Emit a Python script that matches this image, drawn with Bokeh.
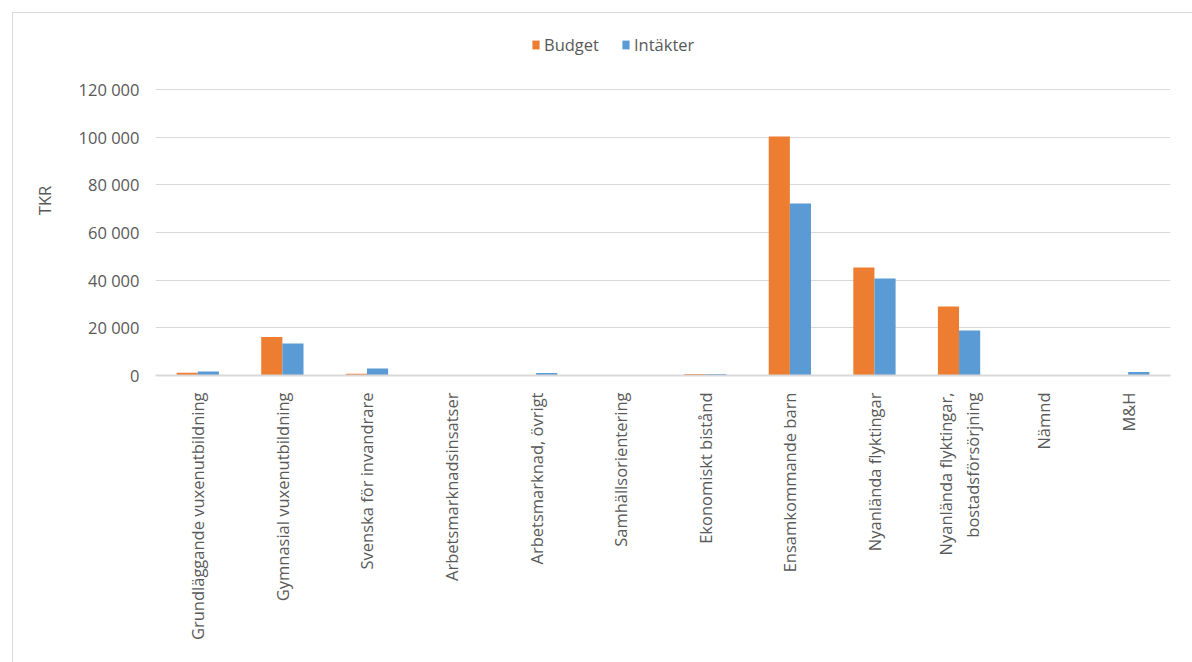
from bokeh.plotting import figure
from bokeh.models import FactorRange, Legend, LegendItem, CustomJSTickFormatter, ColumnDataSource, FixedTicker, Range1d
from bokeh.transform import dodge
from bokeh.embed import file_html
from bokeh.resources import INLINE

categories = [
    "Grundläggande vuxenutbildning",
    "Gymnasial vuxenutbildning",
    "Svenska för invandrare",
    "Arbetsmarknadsinsatser",
    "Arbetsmarknad, övrigt",
    "Samhällsorientering",
    "Ekonomiskt bistånd",
    "Ensamkommande barn",
    "Nyanlända flyktingar",
    "Nyanlända flyktingar,\nbostadsförsörjning",
    "Nämnd",
    "M&H",
]
budget = [1200, 16200, 700, 0, 0, 0, 600, 100300, 45300, 29000, 0, 0]
intakter = [1700, 13400, 2900, 0, 1100, 0, 600, 72200, 40700, 18900, 0, 1500]
y_ticks = [0, 20000, 40000, 60000, 80000, 100000, 120000]

FONT = "Open Sans"
TXT = "#595959"
GRID = "#d9d9d9"
FS = "16.5px"

src = ColumnDataSource(dict(cat=categories, budget=budget, intakter=intakter))

# frame extends above the 120 000 gridline to host the legend
p = figure(frame_width=1015, frame_height=350, x_range=FactorRange(*categories, range_padding=0),
           y_range=Range1d(0, 146853), output_backend="svg", toolbar_location=None,
           min_border_left=142, min_border_right=22, min_border_top=12, min_border_bottom=287)
p.styles = {"border": "1px solid #d9d9d9"}
p.margin = (12, 0, 0, 12)

r1 = p.vbar(x=dodge("cat", -0.125, range=p.x_range), top="budget", width=0.25, source=src,
            fill_color="#ED7D31", line_color=None)
r2 = p.vbar(x=dodge("cat", 0.125, range=p.x_range), top="intakter", width=0.25, source=src,
            fill_color="#5B9BD5", line_color=None)

legend = Legend(items=[LegendItem(label="Budget", renderers=[r1]),
                       LegendItem(label="Intäkter", renderers=[r2])],
                orientation="horizontal", location=(376, 319),
                label_text_font=FONT, label_text_font_size=FS, label_text_color=TXT,
                glyph_width=9, glyph_height=11, spacing=22, label_standoff=4,
                border_line_color=None, background_fill_alpha=0,
                margin=0, padding=4)
p.add_layout(legend, "center")

p.outline_line_color = None
p.xgrid.grid_line_color = None
p.ygrid.grid_line_color = GRID
p.ygrid.grid_line_width = 1
p.ygrid.ticker = FixedTicker(ticks=y_ticks)

p.yaxis.ticker = FixedTicker(ticks=y_ticks)
p.yaxis.formatter = CustomJSTickFormatter(code="return tick.toString().replace(/\\B(?=(\\d{3})+(?!\\d))/g, ' ');")
p.yaxis.axis_line_color = None
p.yaxis.major_tick_line_color = None
p.yaxis.minor_tick_line_color = None
p.yaxis.major_label_text_font = FONT
p.yaxis.major_label_text_font_size = FS
p.yaxis.major_label_text_color = TXT
p.yaxis.major_label_standoff = 10
p.yaxis.axis_label = "TKR"
p.yaxis.axis_label_text_font = FONT
p.yaxis.axis_label_text_font_style = "normal"
p.yaxis.axis_label_text_font_size = FS
p.yaxis.axis_label_text_color = TXT
p.yaxis.axis_label_standoff = 20

p.xaxis.axis_line_color = GRID
p.xaxis.axis_line_width = 2
p.xaxis.major_tick_line_color = None
p.xaxis.minor_tick_line_color = None
p.xaxis.major_label_orientation = 1.5708
p.xaxis.major_label_text_font = FONT
p.xaxis.major_label_text_font_size = FS
p.xaxis.major_label_text_color = TXT
p.xaxis.major_label_standoff = 11

open("out.html", "w").write(file_html(p, INLINE))
